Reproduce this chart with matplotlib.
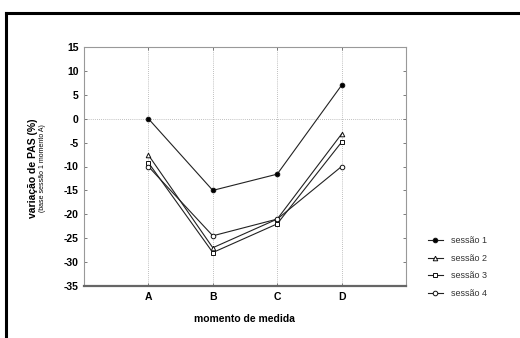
import matplotlib
matplotlib.use('Agg')
import matplotlib.pyplot as plt
from matplotlib.lines import Line2D

plt.rcParams['font.family'] = ['Liberation Sans', 'DejaVu Sans']
plt.rcParams['axes.unicode_minus'] = False

momentos = ['A', 'B', 'C', 'D']
sessao1 = [0, -15, -11.6, 7]
sessao2 = [-7.6, -27, -21, -3.2]
sessao3 = [-9.2, -28, -22, -4.9]
sessao4 = [-10, -24.5, -21, -10]
nomes = ['sessão 1', 'sessão 2', 'sessão 3', 'sessão 4']
marcadores = ['o', '^', 's', 'o']
preenchido = [True, False, False, False]

W, H = 520, 338
fig = plt.figure(figsize=(W / 100, H / 100), dpi=100)
ax = fig.add_axes([84 / W, 1 - 286 / H, (406 - 84) / W, (286 - 47) / H])

x = list(range(len(momentos)))
series = [sessao1, sessao2, sessao3, sessao4]
for vals, nome, m, f in zip(series, nomes, marcadores, preenchido):
    ax.plot(x, vals, color='#222222', lw=0.8, marker=m, markersize=3.3,
            markerfacecolor='black' if f else 'white', markeredgecolor='#111111',
            markeredgewidth=0.7, label=nome, zorder=3)

ax.set_xlim(-1, 4)
ax.set_ylim(-35, 15)
ax.set_yticks(range(-35, 16, 5))
ax.set_xticks(x)
ax.set_xticklabels(momentos, fontweight='bold', fontsize=7.5)
for t in ax.get_yticklabels():
    t.set_fontweight('bold')
    t.set_fontsize(7.5)
ax.tick_params(axis='both', direction='in', length=2, width=0.6, color='#666666', pad=4)
ax.tick_params(axis='y', right=True)
ax.tick_params(axis='x', top=True)

for xi in x:
    ax.axvline(xi, color='#aaaaaa', lw=0.6, ls=(0, (1, 1.5)), zorder=1)
ax.axhline(0, color='#aaaaaa', lw=0.6, ls=(0, (1, 1.5)), zorder=1)

for s in ['left', 'top', 'right']:
    ax.spines[s].set_color('#999999')
    ax.spines[s].set_linewidth(0.8)
ax.spines['bottom'].set_color('#666666')
ax.spines['bottom'].set_linewidth(1.6)

ax.set_xlabel('momento de medida', fontsize=7.5, fontweight='bold', labelpad=9)
fig.text(33 / W, 1 - 168 / H, 'variação de PAS (%)', rotation=90, fontsize=7.5,
         fontweight='bold', ha='center', va='center')
fig.text(43 / W, 1 - 168 / H, '(base sessão 1 momento A)', rotation=90, fontsize=5,
         ha='center', va='center')

leg = fig.legend(loc='upper left', bbox_to_anchor=(420 / W, 1 - 228 / H), frameon=False,
                 fontsize=6.5, handlelength=1.6, labelspacing=0.95, handletextpad=0.9)
for t in leg.get_texts():
    t.set_color('#333333')

# moldura
fig.add_artist(Line2D([6 / W, 1], [1 - 13 / H] * 2, color='black', lw=2.2))
fig.add_artist(Line2D([6 / W] * 2, [0, 1 - 13 / H], color='black', lw=2.2))

plt.savefig('out.png', dpi=100)
